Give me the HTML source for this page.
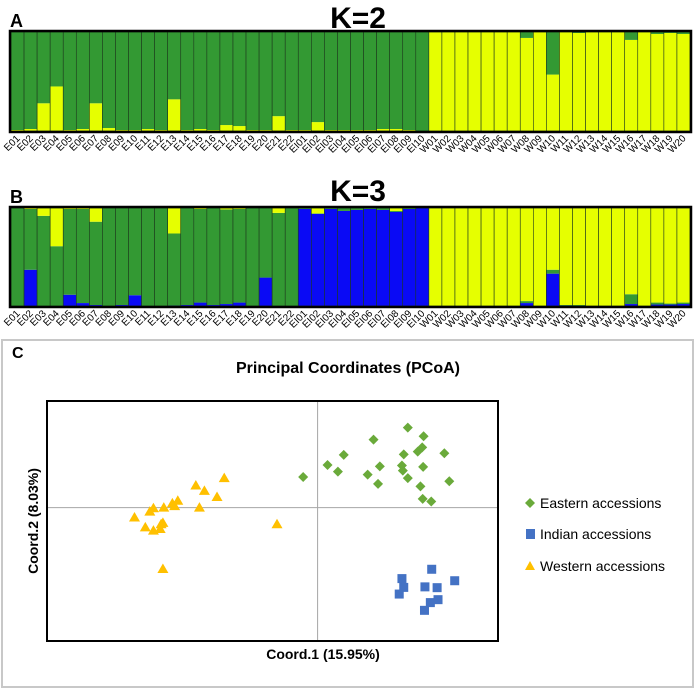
<!DOCTYPE html>
<html><head><meta charset="utf-8">
<style>
html,body{margin:0;padding:0;background:#fff;}
svg{display:block;font-family:"Liberation Sans",sans-serif;}
</style></head>
<body>
<svg id="fig" width="696" height="688" viewBox="0 0 696 688" xmlns="http://www.w3.org/2000/svg">
  <text x="10" y="27" font-size="18" font-weight="bold">A</text>
  <text x="358" y="28" font-size="30" font-weight="bold" text-anchor="middle">K=2</text>
  <g id="barsA"></g>
  <text x="10" y="203" font-size="18" font-weight="bold">B</text>
  <text x="358" y="201" font-size="30" font-weight="bold" text-anchor="middle">K=3</text>
  <g id="barsB"></g>
  <rect x="2" y="340" width="691" height="347" fill="none" stroke="#c8c8c8" stroke-width="2"/>
  <text x="12" y="358" font-size="16" font-weight="bold">C</text>
  <text x="348" y="373" font-size="16" font-weight="bold" text-anchor="middle">Principal Coordinates (PCoA)</text>
  <g id="pcoa"></g>
  <text x="323" y="659" font-size="14" font-weight="bold" text-anchor="middle">Coord.1 (15.95%)</text>
  <text transform="translate(38,521) rotate(-90)" font-size="14" font-weight="bold" text-anchor="middle">Coord.2 (8.03%)</text>
  <g>
    <g>
      <polygon points="530,498 535,503 530,508 525,503" fill="#6aaa3a"/>
      <text x="540" y="508" font-size="14">Eastern accessions</text>
    </g>
    <g>
      <rect x="526" y="529" width="9" height="10" fill="#4472c4"/>
      <text x="540" y="539" font-size="14">Indian accessions</text>
    </g>
    <g>
      <polygon points="530,561 535,570 525,570" fill="#ffc000"/>
      <text x="540" y="571" font-size="14">Western accessions</text>
    </g>
  </g>
</svg>
<script>
// ---- STRUCTURE data ----
const samples = ["E01","E02","E03","E04","E05","E06","E07","E08","E09","E10","E11","E12","E13","E14","E15","E16","E17","E18","E19","E20","E21","E22",
"EI01","EI02","EI03","EI04","EI05","EI06","EI07","EI08","EI09","EI10",
"W01","W02","W03","W04","W05","W06","W07","W08","W09","W10","W11","W12","W13","W14","W15","W16","W17","W18","W19","W20"];
// K=2: yellow fraction (bottom; rest green on top)
const k2Yellow = [0.01,0.02,0.28,0.45,0.01,0.02,0.28,0.03,0.01,0.01,0.02,0.01,0.32,0.01,0.02,0.01,0.06,0.05,0.01,0.01,0.15,0.01,
0.01,0.09,0.01,0.01,0.01,0.01,0.02,0.02,0.01,0.0,
1,1,1,1,1,1,1,0.94,1,0.57,1,0.99,1,1,1,0.92,1,0.98,0.99,0.98];
// K=3 fractions: blue (bottom), green (middle), yellow (top)
const k3Blue = [0,0.37,0,0,0.115,0.03,0.01,0,0.01,0.11,0,0,0.005,0.01,0.035,0.01,0.02,0.035,0,0.29,0,0,
0.99,0.94,0.99,0.97,0.98,0.99,0.98,0.96,0.99,1,
0,0,0,0,0,0,0,0.03,0,0.33,0.005,0,0,0,0,0.02,0,0.015,0.015,0.02];
const k3Yellow = [0,0.01,0.08,0.39,0.01,0.01,0.14,0,0,0,0,0,0.26,0,0.01,0,0.015,0.01,0,0,0.05,0,
0,0.055,0,0,0,0,0,0.03,0,0,
1,1,1,1,1,1,1,0.95,1,0.63,0.99,0.99,1,1,1,0.88,1,0.965,0.975,0.965];

const GREEN="#339933", YELLOW="#e6ff00", BLUE="#0a0af5";
const NS="http://www.w3.org/2000/svg";
function mk(tag, attrs, parent){const e=document.createElementNS(NS,tag);for(const k in attrs)e.setAttribute(k,attrs[k]);parent.appendChild(e);return e;}

function drawStructure(gid, top, bottom, layers, prefix){
  const g=document.getElementById(gid);
  const x0=11, x1=690, n=samples.length, bw=(x1-x0)/n, h=bottom-top;
  const yS=f=>bottom-f*h;
  samples.forEach((s,i)=>{
    const bg=mk('g',{},g);
    
    
    let acc=0;
    layers.forEach(L=>{
      const v=Math.max(0,Math.min(1-acc,L.vals[i]));
      if(v>0){mk('rect',{x:x0+i*bw,y:yS(acc+v),width:bw,height:v*h,fill:L.color},bg);}
      acc+=v;
    });
    mk('rect',{x:x0+i*bw,y:top,width:bw,height:h,fill:"none",stroke:"#1d3a1d","stroke-width":0.6},bg);
    const cx=x0+(i+0.5)*bw+3;
    const t=mk('text',{x:cx,y:bottom+8,"font-size":"10","text-anchor":"end",transform:`rotate(-45 ${cx} ${bottom+8})`},g);
    t.textContent=s;
    
    
  });
  const fr=mk('rect',{x:x0-1,y:top-1,width:x1-x0+2,height:h+2,fill:"none",stroke:"#000","stroke-width":2.5},g);
  
  
}
drawStructure('barsA',32,131,[{vals:k2Yellow,color:YELLOW},{vals:k2Yellow.map(v=>1-v),color:GREEN}],'k2');
drawStructure('barsB',208,306,[{vals:k3Blue,color:BLUE},{vals:k3Blue.map((b,i)=>1-b-k3Yellow[i]),color:GREEN},{vals:k3Yellow,color:YELLOW}],'k3');

// ---- PCoA data ----
const eastX=[0.200,0.235,0.124,0.232,0.222,0.058,0.191,0.281,0.022,0.138,0.187,0.234,0.045,0.111,0.189,0.200,-0.032,0.134,0.228,0.292,0.233,0.252];
const eastY=[0.300,0.268,0.255,0.226,0.210,0.198,0.200,0.204,0.160,0.155,0.158,0.153,0.135,0.124,0.139,0.111,0.115,0.089,0.080,0.099,0.033,0.023];
const indX=[0.253,0.304,0.187,0.191,0.238,0.265,0.181,0.267,0.250,0.237];
const indY=[-0.231,-0.274,-0.266,-0.299,-0.297,-0.300,-0.324,-0.345,-0.356,-0.385];
const westX=[-0.207,-0.270,-0.251,-0.223,-0.310,-0.322,-0.317,-0.262,-0.341,-0.364,-0.372,-0.406,-0.343,-0.347,-0.382,-0.364,-0.349,-0.090,-0.343];
const westY=[0.111,0.083,0.063,0.040,0.026,0.016,0.006,0.000,0.000,-0.002,-0.015,-0.037,-0.057,-0.062,-0.074,-0.086,-0.080,-0.062,-0.230];

const PX0=47, PX1=498, PY0=401, PY1=641;
const xDom=[-0.6,0.4], yDom=[-0.5,0.4];
const sx=v=>PX0+(v-xDom[0])/(xDom[1]-xDom[0])*(PX1-PX0);
const sy=v=>PY1-(v-yDom[0])/(yDom[1]-yDom[0])*(PY1-PY0);
const pg=document.getElementById('pcoa');
const zl1=mk('line',{x1:sx(0),x2:sx(0),y1:PY0,y2:PY1,stroke:"#a6a6a6","stroke-width":1},pg);


const zl2=mk('line',{x1:PX0,x2:PX1,y1:sy(0),y2:sy(0),stroke:"#a6a6a6","stroke-width":1},pg);


eastX.forEach((v,i)=>{const x=sx(v),y=sy(eastY[i]);
  const p=mk('polygon',{points:`${x},${y-5} ${x+5},${y} ${x},${y+5} ${x-5},${y}`,fill:"#6aaa3a"},pg);
  
  });
indX.forEach((v,i)=>{const x=sx(v),y=sy(indY[i]);
  const p=mk('rect',{x:x-4.5,y:y-4.5,width:9,height:9,fill:"#4472c4"},pg);
  
  });
westX.forEach((v,i)=>{const x=sx(v),y=sy(westY[i]);
  const p=mk('polygon',{points:`${x},${y-5.5} ${x+5.5},${y+4} ${x-5.5},${y+4}`,fill:"#ffc000"},pg);
  
  });
const bf=mk('rect',{x:PX0,y:PY0,width:PX1-PX0,height:PY1-PY0,fill:"none",stroke:"#000","stroke-width":2},pg);


</script>
</body></html>
